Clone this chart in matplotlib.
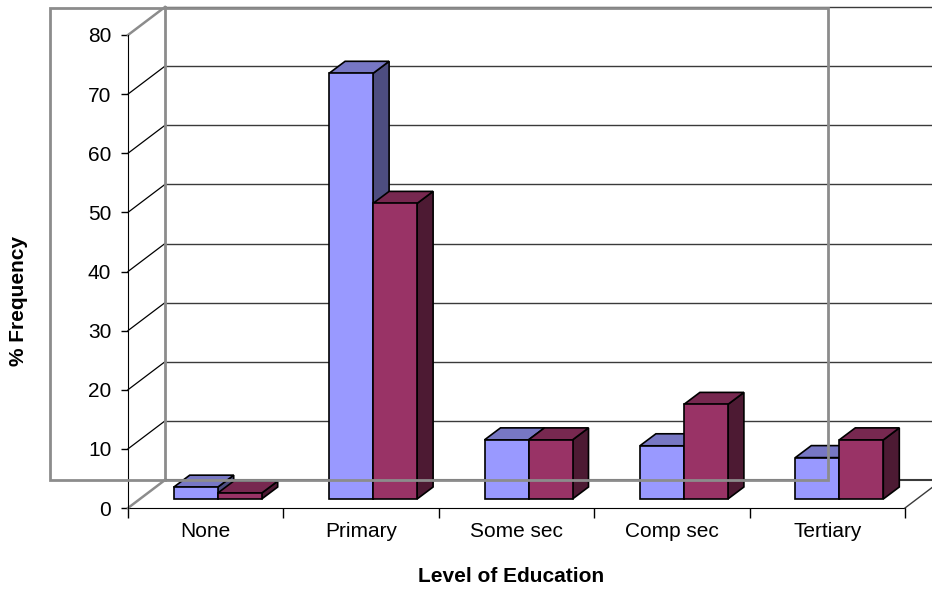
import matplotlib
matplotlib.use("Agg")
import matplotlib.pyplot as plt
from matplotlib.patches import Polygon, Rectangle
import numpy as np

plt.rcParams['font.family'] = ['Liberation Sans', 'DejaVu Sans']

# Data
categories = ["None", "Primary", "Some sec", "Comp sec", "Tertiary"]
series_a = [2, 72, 10, 9, 7]      # first series (periwinkle)
series_b = [1, 50, 10, 16, 10]    # second series (plum)
y_ticks = [0, 10, 20, 30, 40, 50, 60, 70, 80]

# Colours: front, top, side
colors_a = ("#9999FF", "#7777C4", "#4D4D80")
colors_b = ("#993366", "#772850", "#4D1A33")

W, H, DPI = 932, 590, 100
fig = plt.figure(figsize=(W / DPI, H / DPI), dpi=DPI)

# Front plane of the 3D box
ax_l, ax_r, ax_t, ax_b = 128, 905, 35, 508
ax = fig.add_axes([ax_l / W, (H - ax_b) / H, (ax_r - ax_l) / W, (ax_b - ax_t) / H])
ax.set_xlim(0, len(categories))
ax.set_ylim(0, 80)
ax.patch.set_visible(False)
for s in ("top", "right"):
    ax.spines[s].set_visible(False)
ax.spines["left"].set_color("black")
ax.spines["bottom"].set_color("black")
ax.spines["left"].set_zorder(50)
ax.spines["bottom"].set_zorder(1)

# Plot-area border (gray frame behind the 3D box)
fig.patches.append(Rectangle((50 / W, (H - 480) / H), (828 - 50) / W, (480 - 8) / H,
                             transform=fig.transFigure, fill=False,
                             edgecolor="#8C8C8C", linewidth=2, zorder=0))

# Depth vectors (pixel offsets converted to data units)
inv = ax.transData.inverted()
origin = ax.transData.transform((0, 0))


def depth(dx, dy):
    return inv.transform(origin + np.array([dx, dy])) - inv.transform(origin)


D_box = depth(37, 28)     # front plane -> back wall
D_bar0 = depth(12, 9)     # front plane -> bar front faces
D_bar = depth(16, 12)     # bar depth

n = len(categories)

# Back wall gridlines and left wall gridlines
for v in y_ticks:
    p0 = np.array([0, v]) + D_box
    p1 = np.array([n, v]) + D_box
    if v > 0:
        ax.plot([p0[0], p1[0]], [p0[1], p1[1]], color="#3A3A3A", lw=1,
                clip_on=False, zorder=2)
        col = "#8C8C8C" if v == 80 else "black"
        lw = 1.8 if v == 80 else 0.9
        ax.plot([0, D_box[0]], [v, v + D_box[1]], color=col, lw=lw,
                clip_on=False, zorder=2)

# Back wall left edge
ax.plot([D_box[0], D_box[0]], [D_box[1], 80 + D_box[1]], color="#8C8C8C",
        lw=2, clip_on=False, zorder=2)
# Floor back edge, left and right floor edges
ax.plot([D_box[0], n + D_box[0]], [D_box[1], D_box[1]], color="#3A3A3A",
        lw=1.5, clip_on=False, zorder=2)
ax.plot([0, D_box[0]], [0, D_box[1]], color="#8C8C8C", lw=1.8,
        clip_on=False, zorder=2)
ax.plot([n, n + D_box[0]], [0, D_box[1]], color="#3A3A3A", lw=1,
        clip_on=False, zorder=2)


def draw_bar(x0, x1, v, cols, z):
    b = D_bar0
    d = D_bar
    front = [(x0, 0), (x1, 0), (x1, v), (x0, v)]
    front = [np.array(p) + b for p in front]
    top = [np.array((x0, v)) + b, np.array((x1, v)) + b,
           np.array((x1, v)) + b + d, np.array((x0, v)) + b + d]
    side = [np.array((x1, 0)) + b, np.array((x1, v)) + b,
            np.array((x1, v)) + b + d, np.array((x1, 0)) + b + d]
    for pts, c in ((side, cols[2]), (top, cols[1]), (front, cols[0])):
        ax.add_patch(Polygon(pts, closed=True, facecolor=c, edgecolor="black",
                             linewidth=1.2, joinstyle="miter",
                             clip_on=False, zorder=z))


bw = 44 / 155.4
z = 10
for i in range(n):
    xc = i + 0.5
    draw_bar(xc - bw, xc, series_a[i], colors_a, z)
    z += 1
    draw_bar(xc, xc + bw, series_b[i], colors_b, z)
    z += 1

# Ticks and labels
ax.set_yticks(y_ticks)
ax.set_yticklabels([str(v) for v in y_ticks])
ax.tick_params(axis="y", direction="out", length=5, width=1, pad=7,
               labelsize=15, color="black")
ax.set_xticks(np.arange(n + 1))
ax.set_xticklabels([])
ax.tick_params(axis="x", which="major", direction="out", length=7, width=1,
               color="black")
ax.set_xticks(np.arange(n) + 0.5, minor=True)
ax.set_xticklabels(categories, minor=True)
ax.tick_params(axis="x", which="minor", length=0, pad=10, labelsize=15)

fig.text(511 / W, 1 - 577 / H, "Level of Education", ha="center", va="center",
         fontsize=15, fontweight="bold")
fig.text(19 / W, 1 - 301 / H, "% Frequency", ha="center", va="center",
         rotation=90, fontsize=15, fontweight="bold")

fig.savefig("out.png", dpi=DPI)
